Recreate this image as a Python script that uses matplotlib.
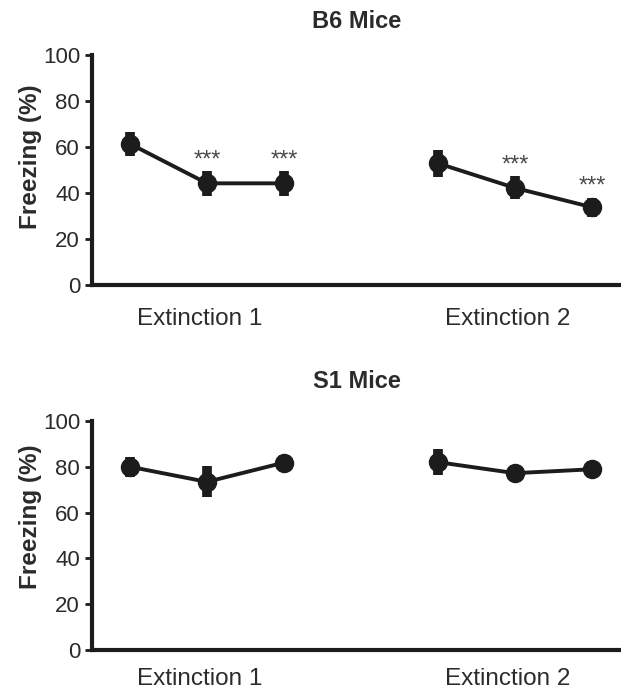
import matplotlib
matplotlib.use('Agg')
import matplotlib.pyplot as plt

plt.rcParams['font.family'] = ['Liberation Sans', 'DejaVu Sans']

# x positions of the three trials in each extinction session
ext1_pos = [0, 1, 2]
ext2_pos = [4, 5, 6]
session_labels = ['Extinction 1', 'Extinction 2']
session_label_pos = [0.9, 4.9]

# B6 mice
b6_ext1_mean = [61.5, 44.3, 44.3]
b6_ext1_sem = [5.3, 5.4, 5.4]
b6_ext2_mean = [53.0, 42.3, 33.9]
b6_ext2_sem = [5.8, 5.0, 4.2]
b6_ext1_sig = ['', '***', '***']
b6_ext2_sig = ['', '***', '***']

# S1 mice
s1_ext1_mean = [80.0, 73.4, 81.8]
s1_ext1_sem = [4.4, 6.8, 3.5]
s1_ext2_mean = [82.0, 77.2, 78.9]
s1_ext2_sem = [5.6, 3.0, 3.5]

yticks = [0, 20, 40, 60, 80, 100]

dark = '#1c1c1c'
text_col = '#2b2b2b'


def draw_panel(ax, groups, title, title_pad, label_pad, ylabel_y):
    for pos, mean, sem, sig in groups:
        ax.errorbar(pos, mean, yerr=sem, fmt='-o', color=dark, lw=2.8,
                    ms=13, elinewidth=7, capsize=0, clip_on=False, zorder=3)
        for x, m, e, s in zip(pos, mean, sem, sig):
            if s:
                ax.text(x, m + e + 2, s, ha='center', va='baseline',
                        fontsize=17, color='#4a4a4a')
    ax.set_xlim(-0.494, 6.377)
    ax.set_ylim(0, 100)
    ax.set_yticks(yticks)
    ax.set_xticks(session_label_pos)
    ax.set_xticklabels(session_labels, fontsize=17.5, color=text_col)
    ax.tick_params(axis='x', length=0, pad=label_pad)
    ax.tick_params(axis='y', length=5, width=2, direction='out', pad=3.5,
                   labelsize=16, labelcolor=text_col, color=dark)
    for side in ['top', 'right']:
        ax.spines[side].set_visible(False)
    for side in ['left', 'bottom']:
        ax.spines[side].set_linewidth(3)
        ax.spines[side].set_color(dark)
    ax.set_title(title, fontsize=17, fontweight='bold', color=text_col, pad=title_pad)
    ax.set_ylabel('Freezing (%)', fontsize=17.5, fontweight='bold', color=text_col)
    ax.yaxis.set_label_coords(-0.095, ylabel_y)


fig = plt.figure(figsize=(6.21, 6.92), dpi=100)
ax_top = fig.add_axes([0.148, 0.588, 0.852, 0.332])
ax_bot = fig.add_axes([0.148, 0.0607, 0.852, 0.331])

draw_panel(ax_top,
           [(ext1_pos, b6_ext1_mean, b6_ext1_sem, b6_ext1_sig),
            (ext2_pos, b6_ext2_mean, b6_ext2_sem, b6_ext2_sig)],
           'B6 Mice', 19.5, 16.5, 0.558)
draw_panel(ax_bot,
           [(ext1_pos, s1_ext1_mean, s1_ext1_sem, ['', '', '']),
            (ext2_pos, s1_ext2_mean, s1_ext2_sem, ['', '', ''])],
           'S1 Mice', 23.5, 13, 0.58)

fig.savefig('out.png', dpi=100)
